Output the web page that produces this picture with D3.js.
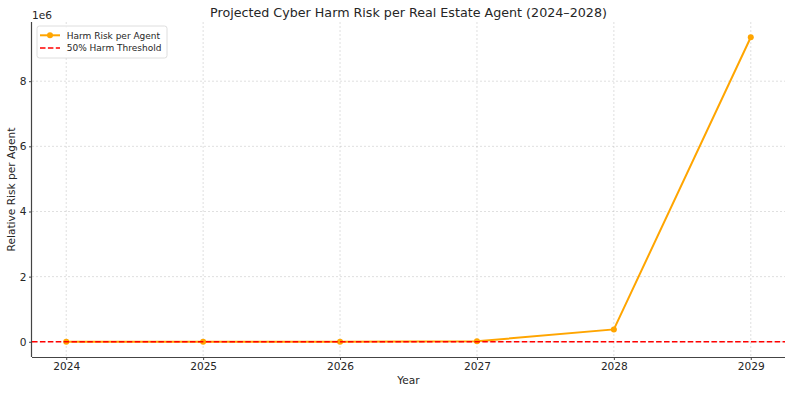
<!DOCTYPE html>
<html><head><meta charset="utf-8">
<script src="https://cdn.jsdelivr.net/npm/d3@7"></script>
<style>body{margin:0;background:#fff}svg{display:block;font-family:"DejaVu Sans",sans-serif}</style>
</head><body>
<svg id="c" width="792" height="393"></svg>
<script>
const years = [2024, 2025, 2026, 2027, 2028, 2029];
const harmRisk = [1, 25, 620, 15500, 380000, 9350000];
const threshold = 0.5;
const yTicks = [0, 2e6, 4e6, 6e6, 8e6];
const xTicks = [2024, 2025, 2026, 2027, 2028, 2029];

const svg = d3.select("#c");
const m = {l: 32, r: 785, t: 22, b: 357};
const x = d3.scaleLinear().domain([2023.75, 2029.25]).range([m.l, m.r]);
const ymax = d3.max(harmRisk), pad = ymax * 0.05;
const y = d3.scaleLinear().domain([-pad, ymax + pad]).range([m.b, m.t]);

// grid
const gridStyle = s => s.attr("stroke", "#b0b0b0").attr("stroke-opacity", 0.5)
  .attr("stroke-width", 0.8).attr("stroke-dasharray", "2,2");
svg.append("g").selectAll("line").data(xTicks).join("line")
  .attr("x1", d => x(d)).attr("x2", d => x(d)).attr("y1", m.t).attr("y2", m.b).call(gridStyle);
svg.append("g").selectAll("line").data(yTicks).join("line")
  .attr("x1", m.l).attr("x2", m.r).attr("y1", d => y(d)).attr("y2", d => y(d)).call(gridStyle);

// axes
const xAxis = svg.append("g").attr("transform", `translate(0,${m.b})`)
  .call(d3.axisBottom(x).tickValues(xTicks).tickFormat(d3.format("d")).tickSize(3).tickPadding(2.5));
const yAxis = svg.append("g").attr("transform", `translate(${m.l},0)`)
  .call(d3.axisLeft(y).tickValues(yTicks).tickFormat(d => d / 1e6).tickSize(3).tickPadding(2.5));
[xAxis, yAxis].forEach(a => {
  a.attr("font-family", "DejaVu Sans").attr("font-size", 10.6);
  a.selectAll("text").attr("fill", "#262626");
  a.selectAll(".tick line").attr("stroke", "#444");
  a.select(".domain").attr("stroke", "#444").attr("stroke-width", 1.2);
});
xAxis.select(".domain").attr("d", `M${m.l},0.5H${m.r}`);
yAxis.select(".domain").attr("d", `M-0.5,${m.b}V${m.t}`);

// line
const line = d3.line().x((d, i) => x(years[i])).y(d => y(d));
svg.append("path").datum(harmRisk).attr("d", line).attr("fill", "none")
  .attr("stroke", "orange").attr("stroke-width", 2);
svg.append("g").selectAll("circle").data(harmRisk).join("circle")
  .attr("cx", (d, i) => x(years[i])).attr("cy", d => y(d)).attr("r", 3).attr("fill", "orange");

// threshold
svg.append("line").attr("x1", m.l).attr("x2", m.r).attr("y1", y(threshold)).attr("y2", y(threshold))
  .attr("stroke", "red").attr("stroke-width", 1.5).attr("stroke-dasharray", "5.5,2.4");

// texts
svg.append("text").attr("x", (m.l + m.r) / 2).attr("y", 16.5).attr("text-anchor", "middle")
  .attr("font-size", 12.7).attr("fill", "#262626").text("Projected Cyber Harm Risk per Real Estate Agent (2024–2028)");
svg.append("text").attr("x", m.l).attr("y", 19).attr("font-size", 10.6).attr("fill", "#262626").text("1e6");
svg.append("text").attr("x", (m.l + m.r) / 2).attr("y", 384).attr("text-anchor", "middle")
  .attr("font-size", 10.6).attr("fill", "#262626").text("Year");
svg.append("text").attr("transform", `translate(15,${(m.t + m.b) / 2}) rotate(-90)`).attr("text-anchor", "middle")
  .attr("font-size", 10.6).attr("fill", "#262626").text("Relative Risk per Agent");

// legend
const lg = svg.append("g").attr("transform", "translate(37,26)");
lg.append("rect").attr("width", 130).attr("height", 32).attr("rx", 2.5).attr("fill", "#fff").attr("fill-opacity", 0.8)
  .attr("stroke", "#d6d6d6").attr("stroke-width", 0.8);
lg.append("line").attr("x1", 3).attr("x2", 23).attr("y1", 9.3).attr("y2", 9.3).attr("stroke", "orange").attr("stroke-width", 2);
lg.append("circle").attr("cx", 13).attr("cy", 9.3).attr("r", 3).attr("fill", "orange");
lg.append("line").attr("x1", 3).attr("x2", 23).attr("y1", 22).attr("y2", 22).attr("stroke", "red").attr("stroke-width", 1.5).attr("stroke-dasharray", "5.5,2.4");
lg.append("text").attr("x", 29.7).attr("y", 12.6).attr("font-size", 9).attr("fill", "#262626").text("Harm Risk per Agent");
lg.append("text").attr("x", 29.7).attr("y", 25.3).attr("font-size", 9).attr("fill", "#262626").text("50% Harm Threshold");
</script>
</body></html>
